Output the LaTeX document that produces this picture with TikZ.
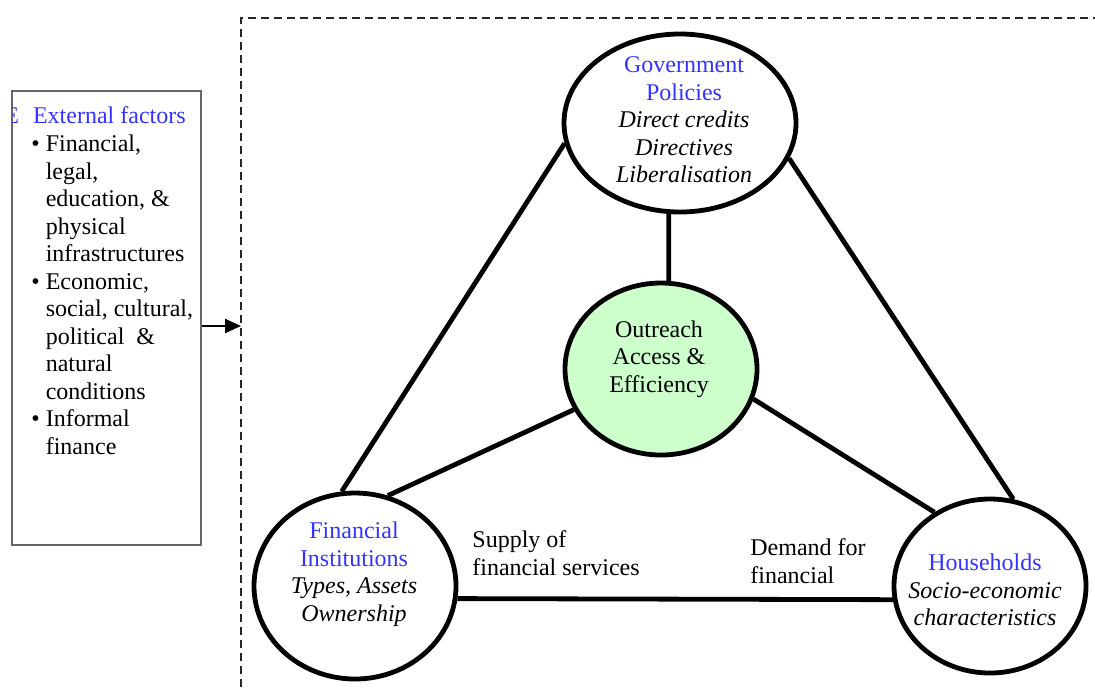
\documentclass[tikz,border=0pt]{standalone}
\usepackage{fontspec}
\setmainfont{Liberation Serif}
\usetikzlibrary{positioning,calc,arrows.meta,shapes.geometric}
\definecolor{titleblue}{RGB}{51,51,255}
\definecolor{coregreen}{RGB}{204,255,204}
\tikzset{font=\fontsize{12}{13.75}\selectfont}
\tikzset{
	actor/.style={draw, ellipse, line width=2.4pt, inner sep=0pt},
	link/.style={line width=2.4pt},
	label/.style={align=center, inner sep=1pt},
	head/.style={text=titleblue}
}

\begin{document}
\begin{tikzpicture}[x=0.5pt, y=-0.5pt]
	\useasboundingbox (0, 0) rectangle (1095, 687);
	\begin{scope}
		% external factors
		\node[draw=black!60, line width=0.6pt, minimum width=94.5pt, minimum height=227pt, inner sep=0pt] (ext) at (106.5, 318) {};
		\begin{scope}
			\clip (12, 91) rectangle (201, 545);
			\node[anchor=base west, inner sep=0pt, head] (exttitle) at (4, 123) {E\hspace{7pt}External factors};
		\end{scope}
		\node[anchor=north west, inner sep=0pt] (extlist) at (31, 132) {%
			\begin{tabular}{@{}c@{\hspace{3pt}}l@{}}
				\textbullet & Financial,\\
				& legal,\\
				& education, \&\\
				& physical\\
				& infrastructures\\
				\textbullet & Economic,\\
				& social, cultural,\\
				& political~ \&\\
				& natural\\
				& conditions\\
				\textbullet & Informal\\
				& finance
			\end{tabular}};

		% dashed frame
		\draw[dash pattern=on 4pt off 2.5pt, line width=1pt, black!85] (241, 687) -- (241, 18) -- (1095, 18);
		\coordinate (frame) at (241, 326);
		\draw[line width=1.2pt, -{Triangle[length=8pt, width=7pt]}] (ext.east |- frame) -- (frame);

		% actors
		\node[actor, minimum width=116pt, minimum height=89pt] (gov) at (680, 123) {};
		\node[actor, fill=coregreen, minimum width=96pt, minimum height=86pt] (core) at (661, 369) {};
		\node[actor, minimum width=101pt, minimum height=93pt] (fin) at (355, 586) {};
		\node[actor, minimum width=96pt, minimum height=87pt] (hh) at (990, 586) {};

		\node[label] (govtext) at (684, 120) {\textcolor{titleblue}{Government}\\\textcolor{titleblue}{Policies}\\\textit{Direct credits}\\\textit{Directives}\\\textit{Liberalisation}};
		\node[label] (coretext) at (659, 359) {Outreach\\Access \&\\Efficiency};
		\node[label] (fintext) at (354, 574) {\textcolor{titleblue}{Financial}\\\textcolor{titleblue}{Institutions}\\\textit{Types, Assets}\\\textit{Ownership}};
		\node[label] (hhtext) at (985, 590) {\textcolor{titleblue}{Households}\\\textit{Socio-economic}\\\textit{characteristics}};

		\node[label, align=left, anchor=west] (supply) at (470, 553) {Supply of\\financial services};
		\node[label, align=left, anchor=west] (demand) at (748, 561) {Demand for\\financial};

		% links
		\draw[link] (gov.263) -- (core.85);
		\draw[link] (gov.190) -- (fin.98);
		\draw[link] (gov.342) -- (hh.75);
		\draw[link] (core.205) -- (fin.70);
		\draw[link] (core.342) -- (hh.127);
		\draw[link] (fin.353) -- (hh.188);
	\end{scope}
\end{tikzpicture}
\end{document}
